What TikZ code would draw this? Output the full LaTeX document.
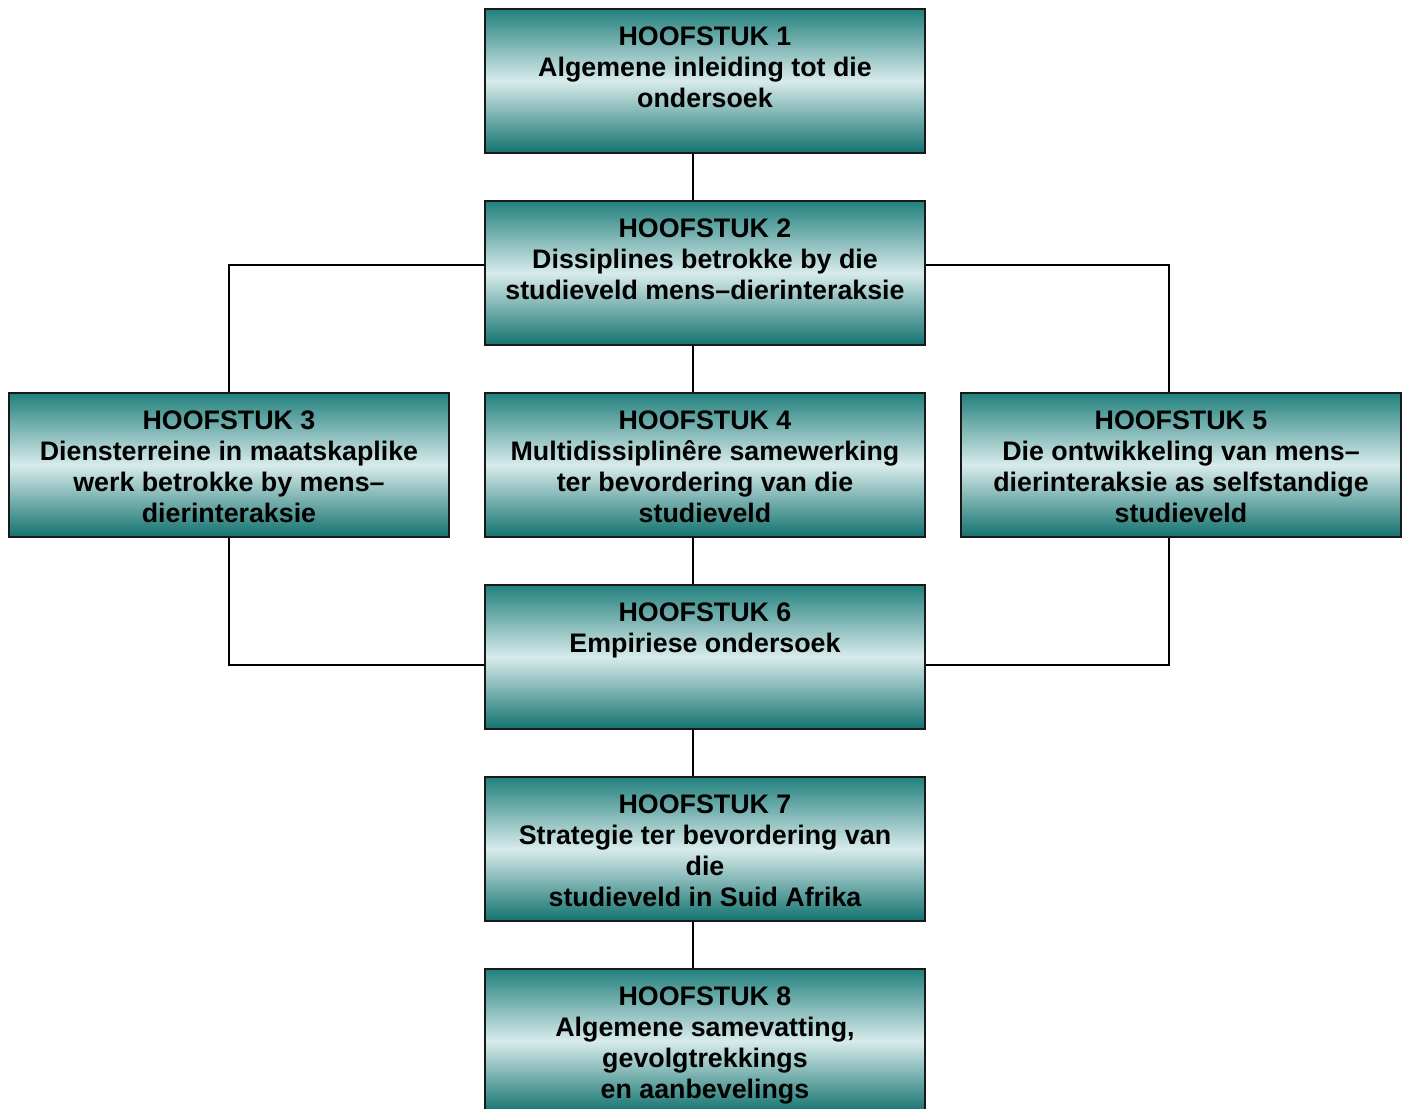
\documentclass[tikz,border=0pt]{standalone}
\usepackage{fontspec}
\setmainfont{Liberation Sans}
\definecolor{tealtop}{RGB}{34,128,125}
\definecolor{tealbot}{RGB}{18,114,111}
\definecolor{tealmid}{RGB}{216,235,235}
\tikzset{
  chapbox/.style={rectangle, draw=black!90, line width=1.4pt, inner sep=0pt,
    minimum width=330pt, minimum height=108pt,
    top color=tealtop, bottom color=tealbot, middle color=tealmid},
  chaptext/.style={anchor=north, inner sep=0pt, align=center,
    font=\fontsize{20.1}{23.25}\selectfont\bfseries, text=black},
  conn/.style={draw=black, line width=1pt}
}
\begin{document}
\begin{tikzpicture}[x=0.75pt,y=-0.75pt]
\clip (0,0) rectangle (1405,1108);
\fill[white] (0,0) rectangle (1405,1108);
\node[chapbox] (b1) at (705,81) {};
\node[chapbox] (b2) at (705,273) {};
\node[chapbox] (b3) at (229,465) {};
\node[chapbox] (b4) at (705,465) {};
\node[chapbox] (b5) at (1181,465) {};
\node[chapbox] (b6) at (705,657) {};
\node[chapbox] (b7) at (705,849) {};
\node[chapbox] (b8) at (705,1041) {};
% connectors
\draw[conn] ([xshift=-9pt]b1.south) -- ([xshift=-9pt]b2.north);
\draw[conn] ([xshift=-9pt]b2.south) -- ([xshift=-9pt]b4.north);
\draw[conn] ([xshift=-9pt]b4.south) -- ([xshift=-9pt]b6.north);
\draw[conn] ([xshift=-9pt]b6.south) -- ([xshift=-9pt]b7.north);
\draw[conn] ([xshift=-9pt]b7.south) -- ([xshift=-9pt]b8.north);
\draw[conn] ([yshift=6pt]b2.west) -| (b3.north);
\draw[conn] ([yshift=6pt]b2.east) -| ([xshift=-9pt]b5.north);
\draw[conn] (b3.south) |- ([yshift=-6pt]b6.west);
\draw[conn] ([xshift=-9pt]b5.south) |- ([yshift=-6pt]b6.east);
% texts
\node[chaptext] (t1) at ([yshift=-13.8pt]b1.north) {HOOFSTUK 1\\Algemene inleiding tot die\\ondersoek};
\node[chaptext] (t2) at ([yshift=-13.8pt]b2.north) {HOOFSTUK 2\\Dissiplines betrokke by die\\studieveld mens–dierinteraksie};
\node[chaptext] (t3) at ([yshift=-13.8pt]b3.north) {HOOFSTUK 3\\Diensterreine in maatskaplike\\werk betrokke by mens–\\dierinteraksie};
\node[chaptext] (t4) at ([yshift=-13.8pt]b4.north) {HOOFSTUK 4\\Multidissiplinêre samewerking\\ter bevordering van die\\studieveld};
\node[chaptext] (t5) at ([yshift=-13.8pt]b5.north) {HOOFSTUK 5\\Die ontwikkeling van mens–\\dierinteraksie as selfstandige\\studieveld};
\node[chaptext] (t6) at ([yshift=-13.8pt]b6.north) {HOOFSTUK 6\\Empiriese ondersoek};
\node[chaptext] (t7) at ([yshift=-13.8pt]b7.north) {HOOFSTUK 7\\Strategie ter bevordering van\\die\\studieveld in Suid Afrika};
\node[chaptext] (t8) at ([yshift=-13.8pt]b8.north) {HOOFSTUK 8\\Algemene samevatting,\\gevolgtrekkings\\en aanbevelings};
\end{tikzpicture}
\end{document}
